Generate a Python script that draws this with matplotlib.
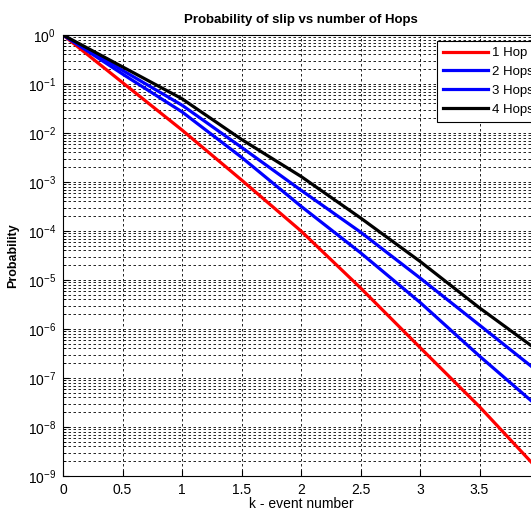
import matplotlib
matplotlib.use('Agg')
import matplotlib.pyplot as plt
from matplotlib.ticker import LogLocator, NullFormatter

plt.rcParams['font.family'] = ['Liberation Sans', 'DejaVu Sans']
plt.rcParams['mathtext.fontset'] = 'custom'
plt.rcParams['mathtext.rm'] = 'Liberation Sans'

# values
k = [0, 0.5, 1, 1.5, 2, 2.5, 3, 3.5, 4]
hop1 = [1, 1.07e-1, 1.15e-2, 1.1e-3, 1.0e-4, 6.9e-6, 4.2e-7, 2.6e-8, 1.3e-9]
hop2 = [1, 1.6e-1, 2.7e-2, 3.2e-3, 3.2e-4, 3.6e-5, 3.5e-6, 2.8e-7, 2.5e-8]
hop3 = [1, 1.9e-1, 3.7e-2, 5.1e-3, 6.8e-4, 9.5e-5, 1.1e-5, 1.2e-6, 1.3e-7]
hop4 = [1, 2.24e-1, 5.0e-2, 7.4e-3, 1.3e-3, 1.85e-4, 2.4e-5, 2.7e-6, 3.5e-7]
names = ['1 Hop', '2 Hops', '3 Hops', '4 Hops']
colors = ['#ff0000', '#0000ff', '#0000ff', '#000000']
xticks = [0, 0.5, 1, 1.5, 2, 2.5, 3, 3.5, 4]
xticklabels = ['0', '0.5', '1', '1.5', '2', '2.5', '3', '3.5', '']

fig = plt.figure(figsize=(5.31, 5.11), dpi=100)
ax = fig.add_axes([63 / 531, 35 / 511, 476 / 531, 441 / 511])

for ys, name, c in zip([hop1, hop2, hop3, hop4], names, colors):
    ax.semilogy(k, ys, color=c, lw=2.3, label=name)

ax.set_xlim(0, 4)
ax.set_ylim(1e-9, 1)
ax.set_xticks(xticks)
ax.set_xticklabels(xticklabels)
ax.yaxis.set_major_locator(LogLocator(base=10, numticks=20))
ax.yaxis.set_minor_locator(LogLocator(base=10, subs=range(2, 10), numticks=20))
ax.yaxis.set_minor_formatter(NullFormatter())

ax.grid(True, which='major', axis='both', color='k', ls=(0, (3, 3)), lw=0.6)
ax.grid(True, which='minor', axis='y', color='k', ls=(0, (3, 3)), lw=0.6)
ax.tick_params(which='both', direction='in', labelsize=10, top=False, right=False)
ax.tick_params(which='major', length=4, pad=5)
ax.tick_params(which='minor', length=2)

ax.set_title('Probability of slip vs number of Hops', fontsize=9.5, fontweight='bold', pad=9)
ax.set_xlabel('k - event number', fontsize=10, labelpad=0)
ax.set_ylabel('Probability', fontsize=9, fontweight='bold', labelpad=6)

leg = ax.legend(loc='upper left', bbox_to_anchor=(437 / 531, 1 - 41 / 511),
                bbox_transform=fig.transFigure, fontsize=9.5, fancybox=False,
                framealpha=1, edgecolor='k', handlelength=3.4, handletextpad=0.3,
                borderaxespad=0, borderpad=0.45, labelspacing=0.5)
leg.get_frame().set_linewidth(0.8)

fig.savefig('out.png', dpi=100)
